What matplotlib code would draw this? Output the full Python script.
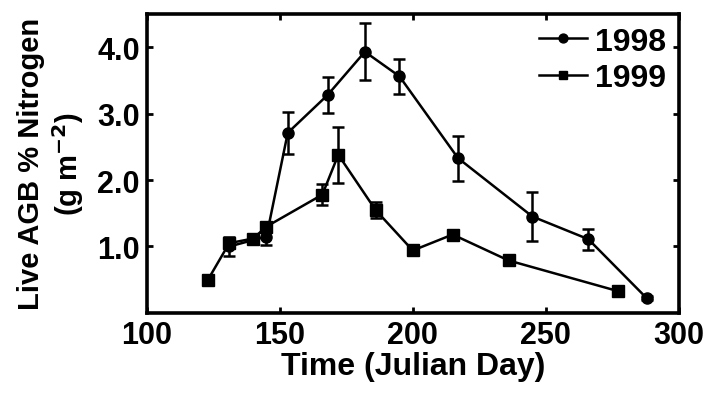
import matplotlib
matplotlib.use("Agg")
import matplotlib.pyplot as plt
import numpy as np

plt.rcParams['font.family'] = ['Liberation Sans', 'DejaVu Sans']
plt.rcParams['font.weight'] = 'bold'

# 1998 series (day, % N, error)
day_98 = [131, 145, 153, 168, 182, 195, 217, 245, 266, 288]
n_98 = [1.00, 1.15, 2.71, 3.28, 3.93, 3.56, 2.33, 1.45, 1.11, 0.22]
err_98 = [0.15, 0.12, 0.32, 0.27, 0.43, 0.26, 0.34, 0.37, 0.16, 0.03]

# 1999 series
day_99 = [123, 131, 140, 145, 166, 172, 186, 200, 215, 236, 277]
n_99 = [0.50, 1.05, 1.12, 1.30, 1.78, 2.38, 1.55, 0.94, 1.18, 0.79, 0.33]
err_99 = [0.03, 0.08, 0.04, 0.05, 0.16, 0.42, 0.12, 0.05, 0.04, 0.03, 0.05]

xticks = [100, 150, 200, 250, 300]
yticks = [1.0, 2.0, 3.0, 4.0]

fig = plt.figure(figsize=(7.16, 4.02), dpi=100)
ax = fig.add_axes([0.205, 0.219, 0.743, 0.744])

# error bars first, lines + markers on top
ax.errorbar(day_98, n_98, yerr=err_98, fmt='none', ecolor='black',
            elinewidth=1.8, capsize=4.5, capthick=1.8)
ax.errorbar(day_99, n_99, yerr=err_99, fmt='none', ecolor='black',
            elinewidth=1.8, capsize=4.5, capthick=1.8)
ax.plot(day_98, n_98, '-o', color='black', lw=1.8, ms=8, label='1998')
ax.plot(day_99, n_99, '-s', color='black', lw=1.8, ms=8, label='1999')

ax.set_xlim(100, 300)
ax.set_ylim(0, 4.5)
ax.set_xticks(xticks)
ax.set_yticks(yticks)
ax.set_yticklabels(['%.1f' % v for v in yticks])
ax.tick_params(direction='in', length=4, width=2, top=True, right=True,
               labelsize=22, pad=5)
for s in ax.spines.values():
    s.set_linewidth(2.6)

ax.set_xlabel('Time (Julian Day)', fontsize=23, fontweight='bold', labelpad=1)
ax.set_ylabel('Live AGB % Nitrogen\n(g m$^{\\mathbf{-2}}$)', fontsize=21,
              fontweight='bold', linespacing=1.2, labelpad=8)

leg = ax.legend(loc='upper right', frameon=False,
                prop={'size': 23, 'weight': 'bold'},
                handlelength=1.5, handletextpad=0.25, labelspacing=0.2,
                borderaxespad=0.2, borderpad=0.2, markerscale=0.8)

fig.savefig('out.png', dpi=100)
